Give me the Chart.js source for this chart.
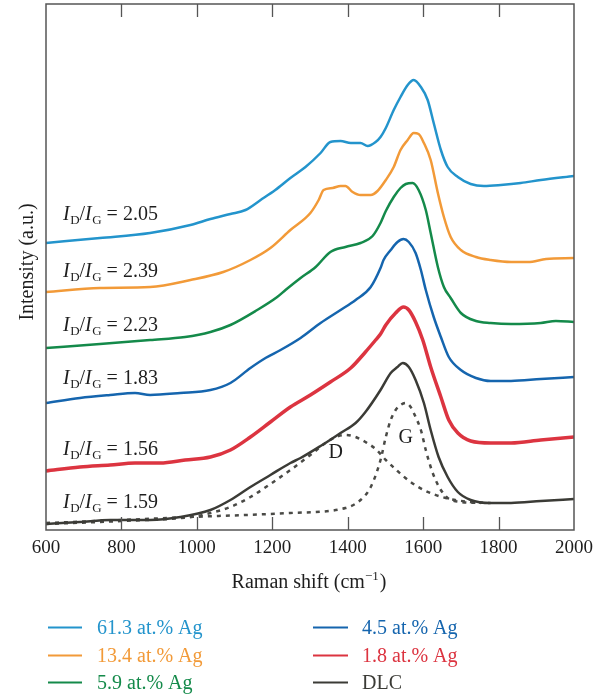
<!DOCTYPE html>
<html>
<head>
<meta charset="utf-8">
<script src="https://cdn.jsdelivr.net/npm/chart.js@4.4.1/dist/chart.umd.min.js"></script>
<style>
  html, body { margin: 0; padding: 0; background: #fff; }
  #wrap { width: 600px; height: 696px; position: relative; }
</style>
</head>
<body>
<div id="wrap"><canvas id="c" width="600" height="696"></canvas></div>
<script>
// ---- Data (Raman shift in cm^-1, intensity in arbitrary units, offset per spectrum) ----
const xTicks = [600, 800, 1000, 1200, 1400, 1600, 1800, 2000];

const shiftAg613 = [600, 743, 876, 983, 1036, 1089, 1129, 1169, 1208, 1248, 1288, 1328, 1354, 1381, 1408, 1434, 1453, 1474, 1487, 1501, 1522, 1540, 1559, 1575, 1594, 1612, 1628, 1647, 1665, 1692, 1726, 1761, 1806, 1859, 1912, 2000];
const intAg613   = [287, 292, 297, 305, 311, 316, 320, 330, 340, 352, 363, 377, 388, 389, 387, 387, 384, 388, 393, 402, 420, 433, 445, 450, 443, 430, 407, 380, 363, 353, 346, 344, 345, 347, 350, 354];

const shiftAg134 = [600, 743, 876, 983, 1070, 1142, 1195, 1248, 1301, 1323, 1336, 1360, 1381, 1394, 1413, 1434, 1461, 1479, 1501, 1522, 1540, 1559, 1575, 1588, 1602, 1620, 1639, 1655, 1673, 1700, 1740, 1779, 1833, 1878, 1926, 2000];
const intAg134   = [238, 242, 243, 250, 258, 270, 282, 300, 317, 330, 340, 342, 344, 344, 338, 335, 335, 339, 350, 363, 380, 390, 397, 396, 387, 370, 337, 313, 293, 280, 273, 270, 268, 268, 271, 272];

const shiftAg59 = [600, 743, 876, 969, 1036, 1089, 1160, 1213, 1235, 1275, 1315, 1354, 1394, 1434, 1466, 1487, 1501, 1522, 1540, 1554, 1572, 1588, 1607, 1620, 1639, 1655, 1673, 1700, 1740, 1779, 1833, 1912, 1952, 2000];
const intAg59   = [182, 186, 190, 193, 198, 205, 220, 233, 240, 252, 263, 278, 283, 287, 294, 307, 319, 333, 342, 346, 347, 340, 320, 297, 263, 243, 232, 217, 209, 207, 206, 207, 209, 208];

const shiftAg45 = [600, 690, 770, 836, 876, 956, 1036, 1089, 1142, 1182, 1222, 1275, 1328, 1381, 1421, 1461, 1487, 1495, 1514, 1532, 1548, 1562, 1580, 1594, 1607, 1628, 1647, 1668, 1700, 1740, 1779, 1833, 1912, 2000];
const intAg45   = [127, 132, 135, 137, 135, 137, 140, 147, 162, 172, 180, 192, 207, 220, 230, 243, 262, 270, 280, 288, 291, 288, 277, 260, 240, 213, 193, 173, 160, 152, 149, 149, 151, 153];

const shiftAg18 = [600, 690, 770, 836, 903, 969, 1036, 1089, 1142, 1195, 1248, 1301, 1354, 1408, 1447, 1474, 1487, 1501, 1527, 1548, 1562, 1580, 1599, 1620, 1647, 1668, 1692, 1726, 1779, 1833, 1912, 2000];
const intAg18   = [59, 63, 65, 67, 67, 70, 73, 80, 93, 108, 123, 135, 148, 162, 178, 190, 196, 205, 217, 223, 220, 208, 190, 163, 133, 110, 97, 89, 87, 87, 90, 93];

const shiftDLC = [600, 690, 770, 876, 956, 1036, 1089, 1142, 1195, 1248, 1275, 1328, 1381, 1421, 1447, 1487, 1514, 1532, 1546, 1562, 1580, 1602, 1620, 1641, 1665, 1692, 1726, 1779, 1833, 1912, 2000];
const intDLC   = [6, 8, 10, 10, 13, 20, 30, 43, 55, 67, 72, 84, 97, 107, 118, 140, 157, 163, 167, 163, 150, 127, 100, 73, 53, 38, 30, 27, 27, 29, 31];

const shiftDband = [600, 800, 983, 1036, 1089, 1142, 1195, 1248, 1301, 1341, 1368, 1394, 1421, 1447, 1474, 1501, 1532, 1567, 1607, 1660, 1726, 1779];
const intDband   = [6, 9, 13, 17, 23, 33, 46, 60, 75, 87, 93, 95, 93, 88, 81, 70, 59, 48, 39, 32, 28, 27];

const shiftGband = [600, 800, 983, 1248, 1394, 1434, 1461, 1487, 1501, 1514, 1527, 1540, 1554, 1567, 1580, 1594, 1607, 1620, 1633, 1647, 1665, 1700, 1753];
const intGband   = [7, 10, 13, 17, 22, 30, 43, 70, 93, 110, 120, 125, 127, 123, 113, 100, 80, 63, 50, 40, 32, 28, 27];

const seriesNames = ['61.3 at.% Ag', '13.4 at.% Ag', '5.9 at.% Ag', '4.5 at.% Ag', '1.8 at.% Ag', 'DLC'];
const ratioLabels = ['2.05', '2.39', '2.23', '1.83', '1.56', '1.59'];
// label anchors (shift, intensity) in data units
const ratioAnchorShift = 645;
const ratioAnchorInt = [310, 253, 199, 146, 75, 22];

// ---- Styles ----
const colors = ['#2394cc', '#f29a38', '#148a4a', '#1565ae', '#dc3440', '#3b3b36'];
const widths = [2.5, 2.5, 2.5, 2.5, 3.5, 2.5];
const FONT = '"Liberation Serif", "Times New Roman", serif';

const toXY = (xs, ys) => xs.map((x, i) => ({ x: x, y: ys[i] }));
const seriesXY = [
  toXY(shiftAg613, intAg613),
  toXY(shiftAg134, intAg134),
  toXY(shiftAg59, intAg59),
  toXY(shiftAg45, intAg45),
  toXY(shiftAg18, intAg18),
  toXY(shiftDLC, intDLC)
];

const datasets = seriesXY.map((d, i) => ({
  label: seriesNames[i],
  data: d,
  borderColor: colors[i],
  borderWidth: widths[i],
  pointRadius: 0,
  fill: false,
  cubicInterpolationMode: 'monotone'
}));
datasets.push({
  label: 'D', data: toXY(shiftDband, intDband), borderColor: '#4a4a46', borderWidth: 2.5,
  borderDash: [4, 5], pointRadius: 0, fill: false, cubicInterpolationMode: 'monotone'
});
datasets.push({
  label: 'G', data: toXY(shiftGband, intGband), borderColor: '#4a4a46', borderWidth: 2.5,
  borderDash: [4, 5], pointRadius: 0, fill: false, cubicInterpolationMode: 'monotone'
});

function drawRatio(ctx, x, y, val) {
  ctx.save();
  ctx.fillStyle = '#1e1e1e';
  ctx.textBaseline = 'alphabetic';
  ctx.textAlign = 'left';
  let cx = x;
  const big = '20px ' + FONT, bigI = 'italic 20px ' + FONT, sub = '13px ' + FONT;
  ctx.font = bigI; ctx.fillText('I', cx, y); cx += ctx.measureText('I').width + 0.5;
  ctx.font = sub; ctx.fillText('D', cx, y + 4); cx += ctx.measureText('D').width;
  ctx.font = big; ctx.fillText('/', cx, y); cx += ctx.measureText('/').width;
  ctx.font = bigI; ctx.fillText('I', cx, y); cx += ctx.measureText('I').width + 0.5;
  ctx.font = sub; ctx.fillText('G', cx, y + 4); cx += ctx.measureText('G').width;
  ctx.font = big; ctx.fillText(' = ' + val, cx, y);
  ctx.restore();
}

const decor = {
  id: 'decor',
  afterDraw(chart) {
    const ctx = chart.ctx;
    const a = chart.chartArea;
    const xs = chart.scales.x, ys = chart.scales.y;
    ctx.save();
    // frame
    ctx.strokeStyle = '#555';
    ctx.lineWidth = 1.5;
    ctx.strokeRect(a.left, a.top, a.right - a.left, a.bottom - a.top);
    // inward ticks top & bottom
    ctx.lineWidth = 1.3;
    xs.ticks.forEach(t => {
      const px = Math.round(xs.getPixelForValue(t.value)) + 0.5;
      if (px <= a.left + 2 || px >= a.right - 2) return;
      ctx.beginPath();
      ctx.moveTo(px, a.bottom); ctx.lineTo(px, a.bottom - 13);
      ctx.moveTo(px, a.top); ctx.lineTo(px, a.top + 13);
      ctx.stroke();
    });
    // ratio labels
    ratioLabels.forEach((v, i) => {
      drawRatio(ctx, xs.getPixelForValue(ratioAnchorShift), ys.getPixelForValue(ratioAnchorInt[i]), v);
    });
    // D and G labels
    ctx.fillStyle = '#1e1e1e';
    ctx.font = '20px ' + FONT;
    ctx.textAlign = 'center';
    ctx.textBaseline = 'alphabetic';
    ctx.fillText('D', xs.getPixelForValue(1368), ys.getPixelForValue(72));
    ctx.fillText('G', xs.getPixelForValue(1554), ys.getPixelForValue(87));
    // x title with superscript
    ctx.textAlign = 'left';
    const t1 = 'Raman shift (cm', sup = '\u22121', t3 = ')';
    ctx.font = '20px ' + FONT;
    const w1 = ctx.measureText(t1).width, w3 = ctx.measureText(t3).width;
    ctx.font = '13px ' + FONT;
    const w2 = ctx.measureText(sup).width;
    let tx = 309 - (w1 + w2 + w3 + 1) / 2;
    const ty = 588;
    ctx.font = '20px ' + FONT; ctx.fillText(t1, tx, ty); tx += w1;
    ctx.font = '13px ' + FONT; ctx.fillText(sup, tx, ty - 8); tx += w2 + 1;
    ctx.font = '20px ' + FONT; ctx.fillText(t3, tx, ty);
    // y title
    ctx.save();
    ctx.translate(28, 262);
    ctx.rotate(-Math.PI / 2);
    ctx.textAlign = 'center';
    ctx.textBaseline = 'middle';
    ctx.font = '20px ' + FONT;
    ctx.fillText('Intensity (a.u.)', 0, 0);
    ctx.restore();
    // legend (two columns, three rows)
    const colX = [[48, 82, 97], [313, 348, 362]];
    const rowY = [627, 655, 682];
    seriesNames.forEach((name, i) => {
      const c = Math.floor(i / 3), r = i % 3;
      const [l0, l1, tx0] = colX[c];
      const yy = rowY[r];
      ctx.strokeStyle = colors[i];
      ctx.lineWidth = 2;
      ctx.beginPath(); ctx.moveTo(l0, yy + 0.5); ctx.lineTo(l1, yy + 0.5); ctx.stroke();
      ctx.fillStyle = colors[i];
      ctx.font = '20px ' + FONT;
      ctx.textAlign = 'left';
      ctx.textBaseline = 'alphabetic';
      ctx.fillText(name, tx0, yy + 7);
    });
    ctx.restore();
  }
};

new Chart(document.getElementById('c'), {
  type: 'line',
  data: { datasets: datasets },
  options: {
    responsive: false,
    animation: false,
    devicePixelRatio: 1,
    layout: { padding: { left: 46, right: 26, top: 4, bottom: 0 } },
    plugins: { legend: { display: false }, tooltip: { enabled: false } },
    scales: {
      x: {
        type: 'linear', min: 600, max: 2000,
        afterBuildTicks: (s) => { s.ticks = xTicks.map(v => ({ value: v })); },
        ticks: {
          color: '#1e1e1e', font: { family: FONT, size: 19 }, padding: 7, maxRotation: 0, autoSkip: false,
          callback: (v) => String(v)
        },
        grid: { display: false, drawTicks: false },
        border: { display: false },
        afterFit: (s) => { s.height = 166; }
      },
      y: { display: false, min: 0, max: 526 }
    }
  },
  plugins: [decor]
});
</script>
</body>
</html>
